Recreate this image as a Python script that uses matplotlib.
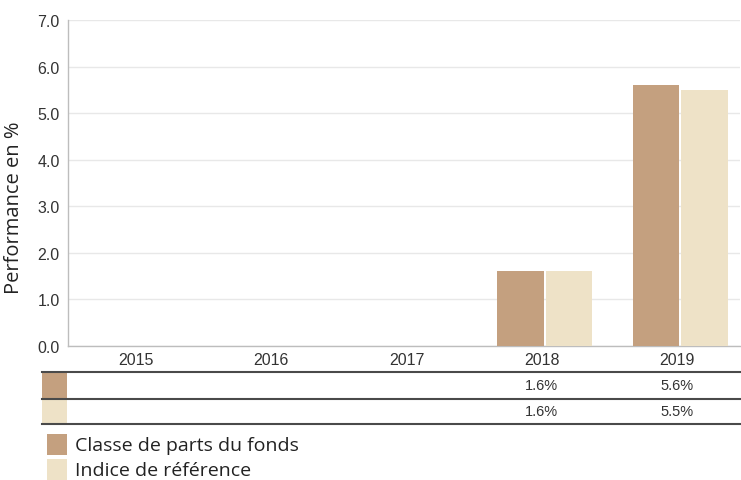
import matplotlib.pyplot as plt
import matplotlib.transforms as mtransforms
import numpy as np

years = ["2015", "2016", "2017", "2018", "2019"]
fund = [np.nan, np.nan, np.nan, 1.6, 5.6]
index = [np.nan, np.nan, np.nan, 1.6, 5.5]
fund_labels = ["", "", "", "1.6%", "5.6%"]
index_labels = ["", "", "", "1.6%", "5.5%"]
series_names = ["Classe de parts du fonds", "Indice de référence"]

brown = "#C4A07F"
beige = "#EEE2C7"
tick_font = "Liberation Sans"
text_font = "Open Sans"

W, H = 741, 481
fig = plt.figure(figsize=(W / 100, H / 100), dpi=100)
ax = fig.add_axes([68 / W, 1 - 347 / H, (740 - 68) / W, (347 - 21) / H])

x = np.arange(len(years))
bw = 0.345
off = 0.022
ax.bar(x + off - bw / 2 - 0.006, fund, width=bw, color=brown, zorder=3)
ax.bar(x + off + bw / 2 + 0.006, index, width=bw, color=beige, zorder=3)

# category width is about 135.5 px, the plot area is slightly cut on the right
ax.set_xlim(-0.5, -0.5 + (740 - 67.5) / 135.5)
ax.set_ylim(0, 7)
ax.set_yticks(np.arange(0, 7.5, 1.0))
ax.set_yticklabels([f"{v:.1f}" for v in np.arange(0, 7.5, 1.0)],
                   fontfamily=tick_font, fontsize=11.5, color="#333333")
ax.set_xticks(x)
ax.set_xticklabels(years, fontfamily=tick_font, fontsize=11.5, color="#333333")
ax.tick_params(axis="both", length=0)
ax.tick_params(axis="x", pad=4)
ax.tick_params(axis="y", pad=6)
ax.grid(axis="y", color="#E8E8E8", linewidth=1, zorder=0)
for s in ["top", "right"]:
    ax.spines[s].set_visible(False)
for s in ["left", "bottom"]:
    ax.spines[s].set_color("#BDBDBD")
    ax.spines[s].set_linewidth(1)

ax.set_ylabel("Performance en %", fontfamily=text_font, fontsize=14.5,
              color="#222222")
ax.yaxis.set_label_coords((24 - 68) / (740 - 68), (347 - 208) / 326)

# table below the chart
def fy(py):
    return 1 - py / H

for py in [372.5, 399.5, 425]:
    fig.add_artist(plt.Line2D([42 / W, 1], [fy(py), fy(py)], color="#4A4A4A",
                              linewidth=1.5, transform=fig.transFigure))

for (top, bot), col in zip([(373, 399), (400, 425)], [brown, beige]):
    fig.add_artist(plt.Rectangle((42 / W, fy(bot)), 25 / W, (bot - top) / H,
                                 color=col, transform=fig.transFigure, linewidth=0))

trans = mtransforms.blended_transform_factory(ax.transData, fig.transFigure)
for i in range(len(years)):
    ax.text(x[i], fy(386), fund_labels[i], transform=trans, ha="center", va="center",
            fontfamily=tick_font, fontsize=10.5, color="#333333", clip_on=False)
    ax.text(x[i], fy(412), index_labels[i], transform=trans, ha="center", va="center",
            fontfamily=tick_font, fontsize=10.5, color="#333333", clip_on=False)

# legend
for (top, bot), col, name in zip([(435, 456), (460, 481)], [brown, beige], series_names):
    fig.add_artist(plt.Rectangle((47 / W, fy(bot)), 20 / W, (bot - top) / H,
                                 color=col, transform=fig.transFigure, linewidth=0))
    fig.text(75 / W, fy((top + bot) / 2 + 1), name, ha="left", va="center",
             fontfamily=text_font, fontsize=14, color="#222222")

fig.savefig("out.png", dpi=100)
